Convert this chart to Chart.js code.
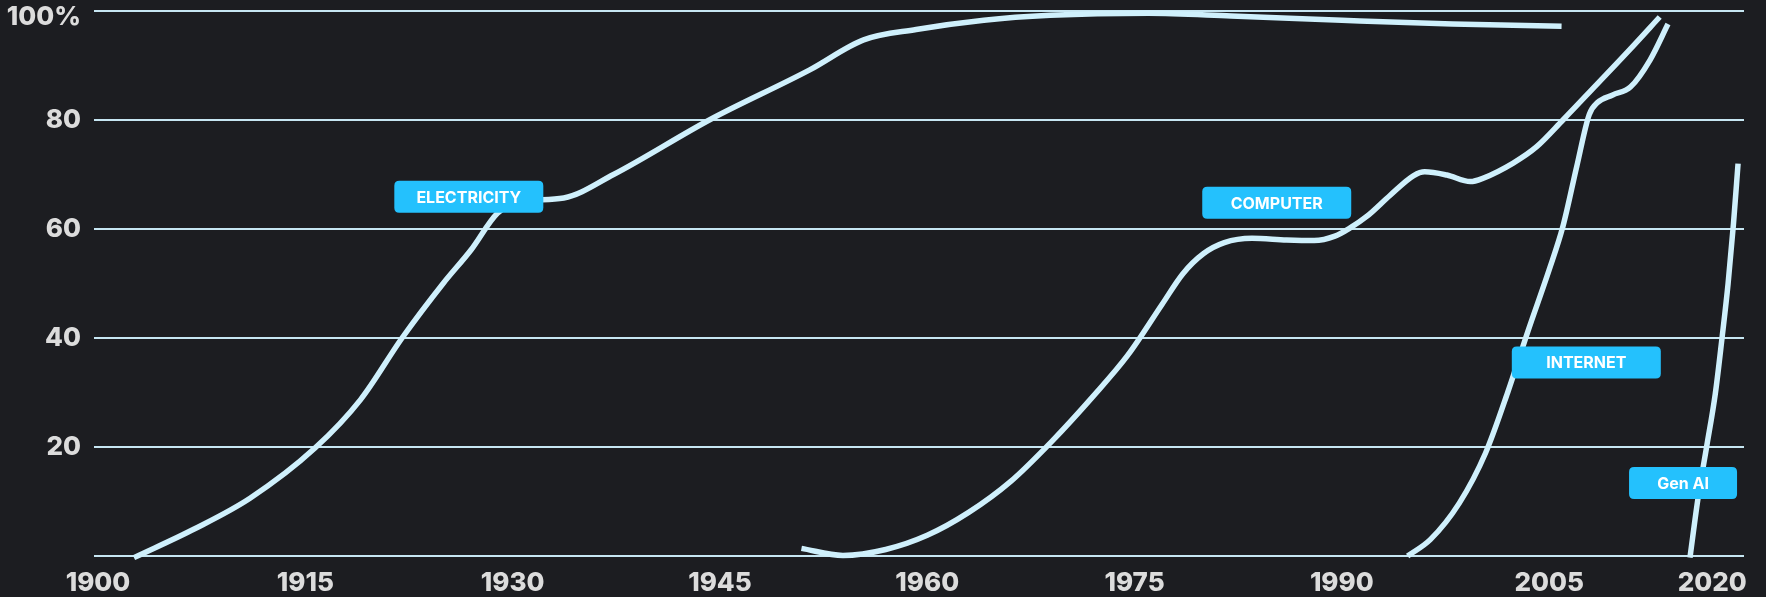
<!DOCTYPE html>
<html>
<head>
<meta charset="utf-8">
<script src="https://cdn.jsdelivr.net/npm/chart.js@4.4.1/dist/chart.umd.min.js"></script>
<style>
  html, body { margin: 0; padding: 0; background: #1c1d21; }
  #wrap { width: 1766px; height: 597px; }
</style>
</head>
<body>
<div id="wrap"><canvas id="c" width="1766" height="597"></canvas></div>
<script>
// ---- data ----
const electricityYears  = [1902.6, 1907.0, 1911.0, 1915.7, 1919.0, 1922.0, 1925.0, 1927.0, 1928.9, 1930.5, 1933.7, 1937.3, 1944.3, 1951.5, 1955.4, 1959.2, 1964.1, 1968.9, 1976.0, 1982.0, 1990.0, 1998.0, 2005.9];
const electricityValues = [-0.3, 5.0, 10.6, 19.8, 28.7, 40.0, 50.1, 56.2, 62.9, 65.0, 65.7, 70.0, 80.1, 89.2, 94.7, 96.6, 98.3, 99.2, 99.6, 99.1, 98.3, 97.6, 97.2];

const computerYears  = [1950.9, 1953.9, 1957.0, 1960.0, 1963.0, 1966.0, 1969.0, 1972.0, 1974.5, 1977.0, 1978.5, 1980.0, 1981.5, 1983.5, 1986.0, 1988.0, 1989.5, 1990.6, 1991.8, 1993.5, 1995.2, 1996.0, 1997.6, 1999.3, 2000.2, 2002.4, 2004.1, 2006.0, 2008.4, 2010.9, 2013.0];
const computerValues = [1.4, 0.1, 1.2, 3.8, 8.0, 13.6, 21.0, 29.3, 36.8, 46.2, 51.8, 55.5, 57.5, 58.3, 58.0, 57.9, 58.7, 60.2, 62.3, 66.2, 69.8, 70.5, 69.9, 68.7, 69.3, 72.1, 75.1, 80.0, 86.4, 93.1, 98.9];

const internetYears  = [1994.76, 1996.4, 1998.5, 2000.4, 2002.0, 2003.5, 2005.0, 2006.0, 2007.0, 2007.9, 2008.5, 2009.6, 2010.9, 2012.3, 2013.6];
const internetValues = [0, 3.0, 9.7, 18.9, 30.0, 41.5, 52.5, 60.5, 71.5, 81.0, 83.2, 84.6, 86.1, 91.0, 97.6];

const genAiYears  = [2015.19, 2015.79, 2016.40, 2017.02, 2017.51, 2017.95, 2018.34, 2018.67];
const genAiValues = [-0.3, 10.9, 20.1, 29.7, 40.0, 50.0, 61.0, 72.0];

const xTickValues = [1900, 1915, 1930, 1945, 1960, 1975, 1990, 2005, 2016.8];
const xTickLabels = ['1900', '1915', '1930', '1945', '1960', '1975', '1990', '2005', '2020'];
const yTickValues = [0, 20, 40, 60, 80, 100];
const yTickLabels = ['', '20', '40', '60', '80', '100%'];

const calloutTexts  = ['ELECTRICITY', 'COMPUTER', 'INTERNET', 'Gen AI'];
const calloutYears  = [1926.83, 1985.29, 2007.69, 2014.69];
const calloutValues = [65.9, 64.8, 35.5, 13.4];

// ---- styles ----
const LINE_COLOR = '#cff0fc';
const GRID_COLOR = '#c6e6f2';
const TICK_COLOR = '#dcdcdc';
const BOX_COLOR = '#24c1fd';
const FONT = 'Inter, "Open Sans", sans-serif';
const calloutStyle = { widths: [149, 149, 149, 108], height: 32, radius: 5 };
const TOP_LABEL_SHIFT = 6; // keeps the top y label inside the canvas

const toPoints = (xs, ys) => xs.map((x, i) => ({ x: x, y: ys[i] }));

function lineDataset(label, xs, ys) {
  return {
    label: label,
    data: toPoints(xs, ys),
    borderColor: LINE_COLOR,
    borderWidth: 5.5,
    pointRadius: 0,
    pointHoverRadius: 0,
    fill: false,
    cubicInterpolationMode: 'monotone',
    clip: false
  };
}

const topLabelPlugin = {
  id: 'topLabelShift',
  beforeDraw(chart) {
    const scale = chart.scales.y;
    const items = scale.getLabelItems(chart.chartArea);
    const last = items[items.length - 1];
    if (last && !last._shifted) {
      last.options.translation[1] += TOP_LABEL_SHIFT;
      last._shifted = true;
    }
  }
};

const calloutPlugin = {
  id: 'callouts',
  afterDatasetsDraw(chart) {
    const ctx = chart.ctx;
    const xs = chart.scales.x, ys = chart.scales.y;
    ctx.save();
    calloutTexts.forEach((t, i) => {
      const cx = xs.getPixelForValue(calloutYears[i]);
      const cy = ys.getPixelForValue(calloutValues[i]);
      const w = calloutStyle.widths[i], h = calloutStyle.height, r = calloutStyle.radius;
      const x0 = cx - w / 2, y0 = cy - h / 2;
      ctx.beginPath();
      ctx.moveTo(x0 + r, y0);
      ctx.lineTo(x0 + w - r, y0);
      ctx.quadraticCurveTo(x0 + w, y0, x0 + w, y0 + r);
      ctx.lineTo(x0 + w, y0 + h - r);
      ctx.quadraticCurveTo(x0 + w, y0 + h, x0 + w - r, y0 + h);
      ctx.lineTo(x0 + r, y0 + h);
      ctx.quadraticCurveTo(x0, y0 + h, x0, y0 + h - r);
      ctx.lineTo(x0, y0 + r);
      ctx.quadraticCurveTo(x0, y0, x0 + r, y0);
      ctx.closePath();
      ctx.fillStyle = BOX_COLOR;
      ctx.fill();
      ctx.fillStyle = '#ffffff';
      ctx.font = '700 16px ' + FONT;
      ctx.textAlign = 'center';
      ctx.textBaseline = 'middle';
      ctx.fillText(t, cx, cy + 1);
    });
    ctx.restore();
  }
};

new Chart(document.getElementById('c'), {
  type: 'line',
  data: {
    datasets: [
      lineDataset('Electricity', electricityYears, electricityValues),
      lineDataset('Computer', computerYears, computerValues),
      lineDataset('Internet', internetYears, internetValues),
      lineDataset('Gen AI', genAiYears, genAiValues)
    ]
  },
  options: {
    responsive: false,
    devicePixelRatio: 1,
    animation: false,
    events: [],
    layout: { padding: { top: 11, right: 22, left: 0, bottom: 0 } },
    plugins: { legend: { display: false }, tooltip: { enabled: false } },
    scales: {
      x: {
        type: 'linear',
        min: 1899.71,
        max: 2019.10,
        grid: { display: false },
        border: { display: false },
        afterBuildTicks(scale) {
          scale.ticks = xTickValues.map(v => ({ value: v }));
        },
        afterFit(scale) {
          scale.height = 41;
          scale.paddingLeft = 0;
          scale.paddingRight = 0;
        },
        ticks: {
          color: TICK_COLOR,
          padding: 6,
          maxRotation: 0,
          autoSkip: false,
          font: { family: FONT, size: 26, weight: '800', lineHeight: 1.0 },
          callback(value, index) { return xTickLabels[index]; }
        }
      },
      y: {
        min: 0,
        max: 100,
        grid: { color: GRID_COLOR, lineWidth: 2, drawTicks: false },
        border: { display: false },
        afterBuildTicks(scale) {
          scale.ticks = yTickValues.map(v => ({ value: v }));
        },
        afterFit(scale) {
          scale.width = 94;
          scale.paddingTop = 0;
          scale.paddingBottom = 0;
        },
        ticks: {
          color: TICK_COLOR,
          padding: 13,
          font: { family: FONT, size: 26, weight: '800', lineHeight: 0.8 },
          callback(value, index) { return yTickLabels[index]; }
        }
      }
    }
  },
  plugins: [topLabelPlugin, calloutPlugin]
});
</script>
</body>
</html>
